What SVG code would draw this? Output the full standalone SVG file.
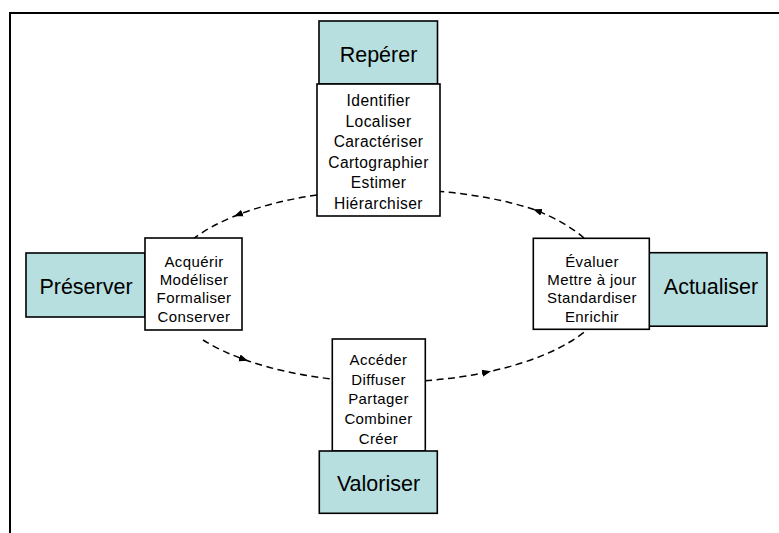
<svg xmlns="http://www.w3.org/2000/svg" width="779" height="533" viewBox="0 0 779 533">
<defs>
<style>
.teal{fill:#B8DFDF;stroke:#000;stroke-width:1.6}
.box{fill:#fff;stroke:#000;stroke-width:1.6}
.big{font-family:"Liberation Sans",Arial,sans-serif;font-size:21.5px;text-anchor:middle;fill:#000}
.lst{font-family:"Liberation Sans",Arial,sans-serif;font-size:15px;letter-spacing:0.4px;text-anchor:middle;fill:#000}
.lst2{font-size:15.6px}
.arc{fill:none;stroke:#000;stroke-width:1.5;stroke-dasharray:7 4.5;marker-mid:url(#ah)}
</style>
<marker id="ah" markerWidth="10" markerHeight="8" refX="8" refY="4" orient="auto" markerUnits="userSpaceOnUse">
<path d="M0,0.5 L9,4 L0,7.5 Z" fill="#000"/>
</marker>
</defs>
<rect width="779" height="533" fill="#fff"/>
<path d="M10,533 V13 H779" fill="none" stroke="#000" stroke-width="2"/>
<g id="connectors">
<path class="arc" d="M317,195 A224 96 0 0 0 235,216 A224 96 0 0 0 193,239"/>
<path class="arc" d="M203,340 A224 96 0 0 0 247,360.5 A224 96 0 0 0 332,379"/>
<path class="arc" d="M425,380.7 A224 96 0 0 0 490,371.5 A224 96 0 0 0 588,329"/>
<path class="arc" d="M584,238 A226 96 0 0 0 534,209.5 A226 96 0 0 0 440,191.5"/>
</g>
<g id="reperer">
<rect class="teal" x="319" y="21" width="118.5" height="63"/>
<text class="big" x="378.5" y="62">Repérer</text>
<rect class="box" x="317" y="84" width="123" height="132"/>
<text class="lst lst2" x="378.5" y="106">Identifier</text>
<text class="lst lst2" x="378.5" y="126.5">Localiser</text>
<text class="lst lst2" x="378.5" y="147">Caractériser</text>
<text class="lst lst2" x="378.5" y="167.5">Cartographier</text>
<text class="lst lst2" x="378.5" y="188">Estimer</text>
<text class="lst lst2" x="378.5" y="208.5">Hiérarchiser</text>
</g>
<g id="preserver">
<rect class="teal" x="26" y="253" width="119" height="64"/>
<text class="big" x="86" y="294">Préserver</text>
<rect class="box" x="145" y="238" width="97" height="92"/>
<text class="lst" x="194" y="266.7">Acquérir</text>
<text class="lst" x="194" y="285">Modéliser</text>
<text class="lst" x="194" y="303.3">Formaliser</text>
<text class="lst" x="194" y="321.7">Conserver</text>
</g>
<g id="actualiser">
<rect class="teal" x="649" y="252.7" width="118" height="73.5"/>
<text class="big" x="711" y="294">Actualiser</text>
<rect class="box" x="533.3" y="238.3" width="116" height="91"/>
<text class="lst" x="592" y="266.7">Évaluer</text>
<text class="lst" x="592" y="285">Mettre à jour</text>
<text class="lst" x="592" y="303.3">Standardiser</text>
<text class="lst" x="592" y="321.7">Enrichir</text>
</g>
<g id="valoriser">
<rect class="box" x="332.3" y="339" width="93" height="112"/>
<text class="lst" x="378.5" y="365">Accéder</text>
<text class="lst" x="378.5" y="384.5">Diffuser</text>
<text class="lst" x="378.5" y="404">Partager</text>
<text class="lst" x="378.5" y="424">Combiner</text>
<text class="lst" x="378.5" y="443.5">Créer</text>
<rect class="teal" x="319.3" y="451" width="118" height="62.3"/>
<text class="big" x="378.5" y="490.7">Valoriser</text>
</g>
</svg>
